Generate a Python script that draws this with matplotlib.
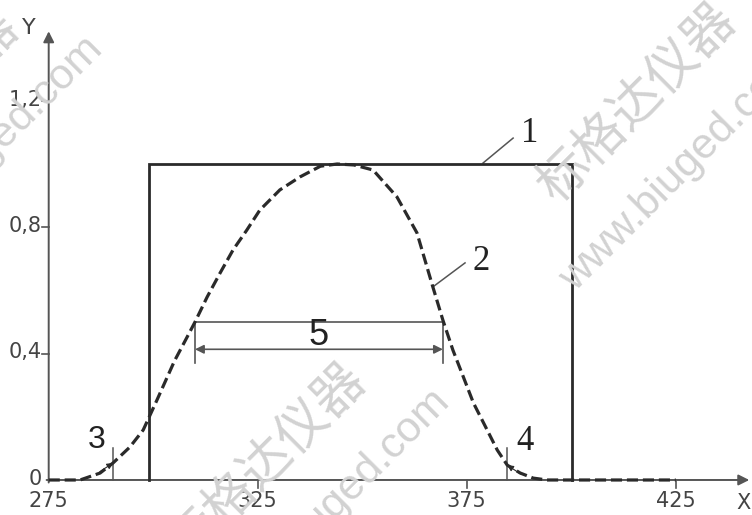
import matplotlib
matplotlib.use("Agg")
import matplotlib.pyplot as plt

plt.rcParams['lines.scale_dashes'] = False

# ---- data ----
rect_x = [299.0, 299.0, 400.3, 400.3]
rect_y = [0.0, 1.0, 1.0, 0.0]

curve_x = [275.0, 282.5, 287.3, 290.4, 294.4, 297.6, 300.9, 305.1, 308.1, 310.0,
           312.9, 316.0, 319.1, 322.4, 325.5, 330.3, 335.1, 340.0, 344.0, 348.0,
           352.6, 358.3, 363.1, 366.9, 369.3, 371.7, 374.2, 376.6, 379.9, 382.3,
           384.7, 387.8, 390.9, 394.2, 425.0]
curve_y = [0.0, 0.0, 0.022, 0.054, 0.104, 0.158, 0.253, 0.377, 0.452, 0.50,
           0.579, 0.655, 0.728, 0.791, 0.854, 0.918, 0.959, 0.993, 1.0, 0.997,
           0.981, 0.896, 0.782, 0.611, 0.506, 0.411, 0.326, 0.244, 0.158, 0.095,
           0.047, 0.022, 0.006, 0.0, 0.0]

x_ticks = [275, 325, 375, 425]
x_tick_labels = ["275", "325", "375", "425"]
y_ticks = [0, 0.4, 0.8, 1.2]
y_tick_labels = ["0", "0,4", "0,8", "1,2"]

fwhm_left, fwhm_right, half_level = 310.0, 369.3, 0.5
mark3_x, mark3_y = 290.4, 0.054
mark4_x, mark4_y = 384.7, 0.047

wm_cn = "标格达仪器"
wm_url = "www.biuged.com"

# ---- figure ----
fig = plt.figure(figsize=(7.52, 5.15), dpi=100)
ax = fig.add_axes([0, 0, 1, 1])
ax.set_xlim(263.35, 443.25)
ax.set_ylim(-0.1108, 1.519)
ax.axis('off')

axis_col = '#555555'
line_col = '#2a2a2a'
tick_font = ['DejaVu Sans']
serif = ['Liberation Serif', 'DejaVu Serif']
sans = ['Liberation Sans', 'DejaVu Sans']
wm_col = '#d2d2d2'

# watermarks (centres in figure pixel coords from top-left)
def wm(px, py, s, size, fam):
    fig.text(px / 752, 1 - py / 515, s, rotation=45, rotation_mode='anchor',
             ha='center', va='center', color=wm_col, fontsize=size,
             family=fam, zorder=0)

cjk = ['Noto Sans CJK SC', 'DejaVu Sans']
wm(637, 103, wm_cn, 37, cjk)
wm(267, 463, wm_cn, 37, cjk)
wm(-80, 110, wm_cn, 37, cjk)
wm(682, 170, wm_url, 31, sans)
wm(329, 511, wm_url, 31, sans)
wm(-18, 158, wm_url, 31, sans)

# axes with arrows
ax.annotate('', xy=(442.6, 0), xytext=(274.5, 0),
            arrowprops=dict(arrowstyle='-|>', lw=1.4, color=axis_col,
                            mutation_scale=16, shrinkA=0, shrinkB=0))
ax.annotate('', xy=(275, 1.42), xytext=(275, -0.008),
            arrowprops=dict(arrowstyle='-|>', lw=1.4, color=axis_col,
                            mutation_scale=16, shrinkA=0, shrinkB=0))
ax.text(439.6, -0.073, "X", fontsize=15, color='#444444', family=tick_font,
        ha='left', va='center')
ax.text(270.3, 1.43, "Y", fontsize=16, color='#444444', family=tick_font,
        ha='center', va='center')

# ticks
for xv, lab in zip(x_ticks, x_tick_labels):
    if xv != 275:
        ax.plot([xv, xv], [0, -0.025], color=axis_col, lw=1.2)
    ax.text(xv, -0.066, lab, fontsize=15, color='#444444', family=tick_font,
            ha='center', va='center')
for yv, lab in zip(y_ticks, y_tick_labels):
    if yv != 0:
        ax.plot([273.4, 275], [yv, yv], color=axis_col, lw=1.2)
    ax.text(273.3, yv + 0.004, lab, fontsize=15, color='#444444', family=tick_font,
            ha='right', va='center')

# rectangle (1)
ax.plot(rect_x, rect_y, color=line_col, lw=2.0, solid_joinstyle='miter', zorder=3)

# dashed curve (2)
ax.plot(curve_x, curve_y, color=line_col, lw=2.3, dashes=(8, 3.5), zorder=4)

# leader lines and numbers
ax.plot([378.9, 386.1], [1.003, 1.082], color=axis_col, lw=1.1)
ax.text(388.0, 1.095, "1", fontsize=25, family=serif,
        color='#222222', ha='left', va='center')
ax.plot([366.9, 374.6], [0.611, 0.687], color=axis_col, lw=1.1)
ax.text(376.3, 0.69, "2", fontsize=25, family=serif,
        color='#222222', ha='left', va='center')

# mark 3
ax.plot([mark3_x, mark3_x], [0.0, 0.1], color=axis_col, lw=1.1)
ax.annotate('', xy=(mark3_x, mark3_y), xytext=(mark3_x - 3.2, mark3_y - 0.028),
            arrowprops=dict(arrowstyle='-|>', lw=0.8, color=line_col,
                            mutation_scale=9, shrinkA=0, shrinkB=0))
ax.text(mark3_x - 3.9, 0.125, "3", fontsize=23, family=sans,
        color='#222222', ha='center', va='center')
# mark 4
ax.plot([mark4_x, mark4_x], [0.0, 0.1], color=axis_col, lw=1.1)
ax.annotate('', xy=(mark4_x, mark4_y), xytext=(mark4_x + 3.2, mark4_y - 0.028),
            arrowprops=dict(arrowstyle='-|>', lw=0.8, color=line_col,
                            mutation_scale=9, shrinkA=0, shrinkB=0))
ax.text(mark4_x + 4.3, 0.122, "4", fontsize=25, family=serif,
        color='#222222', ha='center', va='center')

# dimension 5
ax.plot([fwhm_left, fwhm_right], [half_level, half_level], color=axis_col, lw=1.2)
ax.plot([fwhm_left, fwhm_left], [half_level, 0.37], color=axis_col, lw=1.2)
ax.plot([fwhm_right, fwhm_right], [half_level, 0.37], color=axis_col, lw=1.2)
ax.annotate('', xy=(fwhm_left, 0.4136), xytext=(fwhm_right, 0.4136),
            arrowprops=dict(arrowstyle='<|-|>', lw=1.2, color=axis_col,
                            mutation_scale=13, shrinkA=0, shrinkB=0))
ax.text((fwhm_left + fwhm_right) / 2, 0.458, "5", fontsize=26,
        family=sans, color='#222222', ha='center', va='center')

fig.savefig("out.png", dpi=100)
